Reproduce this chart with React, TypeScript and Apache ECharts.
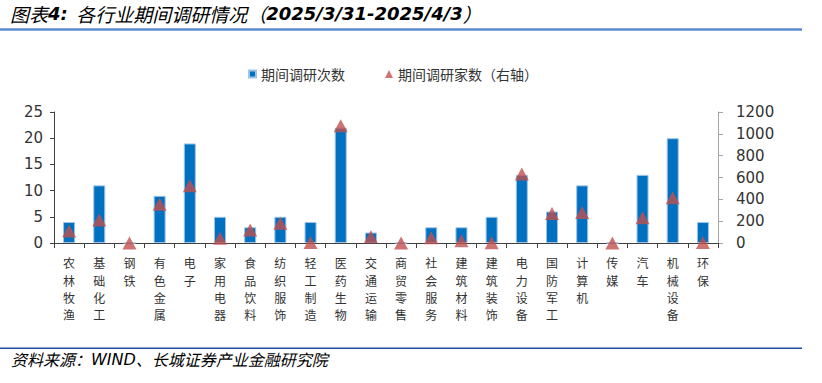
import React, { useEffect, useRef } from "react";
import * as echarts from "echarts";

const categories = ["农林牧渔", "基础化工", "钢铁", "有色金属", "电子", "家用电器", "食品饮料", "纺织服饰", "轻工制造", "医药生物", "交通运输", "商贸零售", "社会服务", "建筑材料", "建筑装饰", "电力设备", "国防军工", "计算机", "传媒", "汽车", "机械设备", "环保"];
const surveyCounts = [4, 11, 0, 9, 19, 5, 3, 5, 4, 22, 2, 0, 3, 3, 5, 13, 6, 11, 0, 13, 20, 4];
const surveyFirms = [110, 210, 0, 355, 525, 43, 119, 180, 5, 1075, 58, 0, 49, 21, 3, 632, 270, 280, 0, 232, 415, 5];
const countName = "期间调研次数";
const firmName = "期间调研家数（右轴）";
const titleText = "{a|图表}{d|4:}{a|  各行业期间调研情况（}{d|2025/3/31-2025/4/3}{a|）}";
const sourceText = "{a|资料来源：}{d|WIND}{a|、长城证券产业金融研究院}";

export default function App() {
  const ref = useRef<HTMLDivElement>(null);
  useEffect(() => {
    if (!ref.current) return;
    const chart = echarts.init(ref.current, null, { renderer: "svg" });
    const latin = "DejaVu Sans, Noto Sans CJK SC, sans-serif";
    const cjk = "Noto Sans CJK SC, sans-serif";
    chart.setOption({
      animation: false,
      backgroundColor: "#fff",
      textStyle: { fontFamily: cjk },
      grid: { left: 54, right: 104, top: 112, bottom: 140, containLabel: false },
      legend: [
        {
          data: [countName],
          left: 243,
          top: 62,
          icon: "rect",
          itemWidth: 7,
          itemHeight: 7,
          textStyle: { fontSize: 14, color: "#333", fontFamily: cjk },
        },
        {
          data: [firmName],
          left: 380,
          top: 62,
          icon: "triangle",
          itemWidth: 8,
          itemHeight: 8,
          textStyle: { fontSize: 14, color: "#333", fontFamily: cjk },
        },
      ],
      xAxis: {
        type: "category",
        data: categories,
        boundaryGap: true,
        axisLine: { lineStyle: { color: "#404040", width: 1 } },
        axisTick: { show: true, interval: 0, length: 5, lineStyle: { color: "#404040" } },
        axisLabel: {
          interval: 0,
          margin: 11,
          fontSize: 12,
          lineHeight: 17.4,
          color: "#333",
          fontFamily: cjk,
          verticalAlign: "top",
          formatter: (v: string) => v.split("").join("\n"),
        },
      },
      yAxis: [
        {
          type: "value",
          min: 0,
          max: 25,
          interval: 5,
          splitLine: { show: false },
          axisLine: { show: true, lineStyle: { color: "#404040" } },
          axisTick: { show: true, length: 4, lineStyle: { color: "#404040" } },
          axisLabel: { fontSize: 15, color: "#333", margin: 11, fontFamily: latin },
        },
        {
          type: "value",
          min: 0,
          max: 1200,
          interval: 200,
          position: "right",
          splitLine: { show: false },
          axisLine: { show: true, lineStyle: { color: "#A6A6A6" } },
          axisTick: { show: true, length: 5, lineStyle: { color: "#A6A6A6" } },
          axisLabel: {
            fontSize: 15,
            color: "#333",
            margin: 18,
            fontFamily: latin,
            formatter: (v: number) => String(v),
          },
        },
      ],
      series: [
        {
          name: countName,
          type: "bar",
          yAxisIndex: 0,
          data: surveyCounts,
          barWidth: 12,
          itemStyle: { color: "#0070C0", borderColor: "#9DC3E6", borderWidth: 1 },
        },
        {
          name: firmName,
          type: "scatter",
          yAxisIndex: 1,
          data: surveyFirms,
          symbol: "triangle",
          symbolSize: [14, 13],
          itemStyle: { color: "#C0504D" },
          z: 3,
        },
      ],
      graphic: [
        {
          type: "text",
          left: 10,
          top: 4,
          style: {
            text: titleText,
            rich: {
              a: { fontSize: 19, fontStyle: "italic", color: "#2E5DA8", fontFamily: cjk },
              d: { fontSize: 18, fontStyle: "italic", fontWeight: "bold", color: "#1F4E9A", fontFamily: latin },
            },
          },
        },
        {
          type: "line",
          shape: { x1: 0, y1: 29.5, x2: 802, y2: 29.5 },
          style: { stroke: "#5B8BD0", lineWidth: 2.5 },
        },
        {
          type: "line",
          shape: { x1: 0, y1: 348.3, x2: 802, y2: 348.3 },
          style: { stroke: "#1F4E9A", lineWidth: 1.5 },
        },
        {
          type: "text",
          left: 11,
          top: 351,
          style: {
            text: sourceText,
            rich: {
              a: { fontSize: 16, fontStyle: "italic", color: "#5B7FC0", fontFamily: cjk },
              d: { fontSize: 16, fontStyle: "italic", color: "#1F4E9A", fontFamily: latin },
            },
          },
        },
      ],
    });
    return () => chart.dispose();
  }, []);
  return <div ref={ref} style={{ position: "absolute", left: 0, top: 0, width: 822, height: 383 }} />;
}
